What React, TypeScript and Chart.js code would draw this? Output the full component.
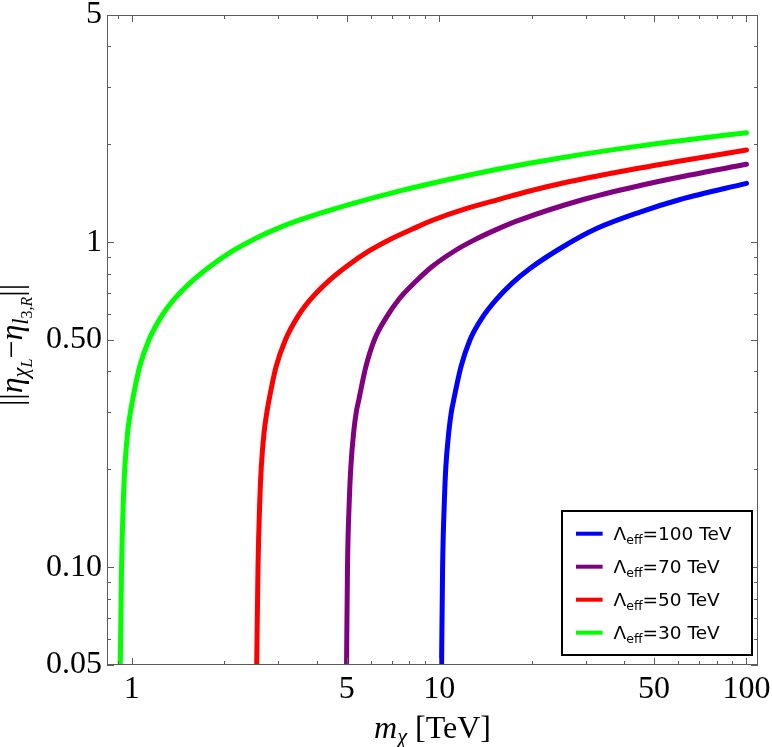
import React, { useEffect, useRef } from "react";
import { Chart, registerables } from "chart.js";

Chart.register(...registerables);

// ---- data ----
const LAMBDA_VALUES = [100, 70, 50, 30];
const COLORS = ["#0000ff", "#800080", "#ff0000", "#00ff00"];

const BLUE_X = [10.18, 10.26, 10.4, 10.51, 10.74, 10.94, 11.15, 11.77, 12.59, 13.88, 15.3, 17.25, 19.74, 25.29, 32.64, 45.06, 60.81, 100];
const BLUE_Y = [0.05, 0.1, 0.161, 0.203, 0.259, 0.298, 0.327, 0.413, 0.5, 0.59, 0.664, 0.747, 0.83, 0.968, 1.103, 1.238, 1.353, 1.517];

const PURPLE_X = [4.995, 5.031, 5.1, 5.158, 5.267, 5.366, 5.476, 5.771, 6.151, 6.755, 7.364, 8.273, 9.467, 11.25, 13.07, 15.53, 18.32, 29.44, 45.06, 60.81, 100];
const PURPLE_Y = [0.05, 0.1, 0.161, 0.203, 0.259, 0.298, 0.327, 0.413, 0.5, 0.59, 0.664, 0.747, 0.84, 0.941, 1.018, 1.099, 1.171, 1.353, 1.494, 1.587, 1.736];

const RED_X = [2.548, 2.573, 2.608, 2.637, 2.692, 2.747, 2.795, 2.945, 3.158, 3.465, 3.8, 4.285, 4.979, 5.929, 6.889, 8.211, 9.56, 12.29, 15.77, 19.7, 25.3, 45.06, 60.81, 100];
const RED_Y = [0.05, 0.1, 0.161, 0.203, 0.259, 0.298, 0.327, 0.413, 0.5, 0.59, 0.664, 0.747, 0.84, 0.941, 1.018, 1.099, 1.17, 1.271, 1.357, 1.437, 1.521, 1.692, 1.777, 1.921];

const GREEN_X = [0.9167, 0.9257, 0.9383, 0.9489, 0.9683, 0.988, 1.0053, 1.0594, 1.1359, 1.2466, 1.3671, 1.5415, 1.7913, 2.1331, 2.4785, 2.953, 3.518, 5.118, 7.447, 10.835, 15.766, 25.29, 45.06, 60.81, 100];
const GREEN_Y = [0.05, 0.1, 0.161, 0.203, 0.259, 0.298, 0.327, 0.413, 0.5, 0.59, 0.664, 0.747, 0.84, 0.941, 1.018, 1.099, 1.171, 1.307, 1.438, 1.562, 1.683, 1.823, 1.978, 2.052, 2.172];

const SERIES_X = [BLUE_X, PURPLE_X, RED_X, GREEN_X];
const SERIES_Y = [BLUE_Y, PURPLE_Y, RED_Y, GREEN_Y];

const X_TICKS = [1, 5, 10, 50, 100];
const X_TICK_LABELS = ["1", "5", "10", "50", "100"];
const X_MINOR = [0.9, 2, 3, 4, 6, 7, 8, 9, 20, 30, 40, 60, 70, 80, 90];
const Y_TICKS = [0.05, 0.1, 0.5, 1, 5];
const Y_TICK_LABELS = ["0.05", "0.10", "0.50", "1", "5"];
const Y_MINOR = [0.06, 0.07, 0.08, 0.09, 0.2, 0.3, 0.4, 0.6, 0.7, 0.8, 0.9, 2, 3, 4];

const X_MIN = 0.83;
const X_MAX = 109;
const Y_MIN = 0.05;
const Y_MAX = 5;

type Part = { t: string; s: number; dy: number; it: boolean };

const X_TITLE: Part[] = [
  { t: "m", s: 1, dy: 0, it: true },
  { t: "χ", s: 0.7, dy: 0.2, it: true },
  { t: " [TeV]", s: 1, dy: 0, it: false },
];

const Y_TITLE: Part[] = [
  { t: "||", s: 1, dy: 0, it: false },
  { t: "η", s: 1, dy: 0, it: true },
  { t: "χ", s: 0.7, dy: 0.2, it: true },
  { t: "L", s: 0.5, dy: 0.32, it: true },
  { t: "−", s: 1, dy: 0, it: false },
  { t: "η", s: 1, dy: 0, it: true },
  { t: "l", s: 0.7, dy: 0.2, it: true },
  { t: "3,", s: 0.5, dy: 0.32, it: false },
  { t: "R", s: 0.5, dy: 0.32, it: true },
  { t: "||", s: 1, dy: 0, it: false },
];

const SERIF = "'Liberation Serif', 'Times New Roman', serif";
const SANS = "'DejaVu Sans', 'Liberation Sans', sans-serif";

Chart.defaults.font.family = SERIF;

function fontFor(p: Part, base: number) {
  return `${p.it ? "italic " : ""}${base * p.s}px ${SERIF}`;
}
function partsWidth(ctx: CanvasRenderingContext2D, parts: Part[], base: number) {
  let w = 0;
  for (const p of parts) {
    ctx.font = fontFor(p, base);
    w += ctx.measureText(p.t).width;
  }
  return w;
}
function drawParts(ctx: CanvasRenderingContext2D, parts: Part[], base: number, x: number, y: number) {
  for (const p of parts) {
    ctx.font = fontFor(p, base);
    ctx.fillText(p.t, x, y + p.dy * base);
    x += ctx.measureText(p.t).width;
  }
}

const framePlugin = {
  id: "mmaFrame",
  afterDraw(chart: any) {
    const { ctx, chartArea: a, scales } = chart;
    const xs = scales.x;
    const ys = scales.y;
    ctx.save();
    // frame
    ctx.strokeStyle = "#5c5c5c";
    ctx.lineWidth = 1;
    ctx.strokeRect(a.left + 0.5, a.top + 0.5, a.right - a.left - 1, a.bottom - a.top - 1);
    const MAJ = 7;
    const MIN = 4;
    ctx.beginPath();
    const xt = (v: number, len: number) => {
      const px = Math.round(xs.getPixelForValue(v)) + 0.5;
      ctx.moveTo(px, a.bottom);
      ctx.lineTo(px, a.bottom - len);
      ctx.moveTo(px, a.top);
      ctx.lineTo(px, a.top + len);
    };
    const yt = (v: number, len: number) => {
      const py = Math.round(ys.getPixelForValue(v)) + 0.5;
      ctx.moveTo(a.left, py);
      ctx.lineTo(a.left + len, py);
      ctx.moveTo(a.right, py);
      ctx.lineTo(a.right - len, py);
    };
    X_TICKS.forEach((v) => xt(v, MAJ));
    X_MINOR.forEach((v) => xt(v, MIN));
    Y_TICKS.forEach((v) => yt(v, MAJ));
    Y_MINOR.forEach((v) => yt(v, MIN));
    ctx.stroke();

    // legend
    const w = 190;
    const h = 144;
    const L = a.right - 6 - w;
    const T = a.bottom - 10 - h;
    ctx.fillStyle = "#ffffff";
    ctx.fillRect(L, T, w, h);
    ctx.strokeStyle = "#000000";
    ctx.lineWidth = 2;
    ctx.strokeRect(L, T, w, h);
    chart.data.datasets.forEach((ds: any, i: number) => {
      const yy = T + 22.7 + i * 33;
      ctx.beginPath();
      ctx.strokeStyle = ds.borderColor;
      ctx.lineWidth = 4;
      ctx.moveTo(L + 14, yy);
      ctx.lineTo(L + 40.6, yy);
      ctx.stroke();
      ctx.fillStyle = "#000";
      ctx.textBaseline = "alphabetic";
      ctx.textAlign = "left";
      let tx = L + 51.6;
      const base = yy + 6.5;
      ctx.font = `18.5px ${SANS}`;
      ctx.fillText("Λ", tx, base);
      tx += ctx.measureText("Λ").width;
      ctx.font = `12.5px ${SANS}`;
      ctx.fillText("eff", tx, base + 4);
      tx += ctx.measureText("eff").width;
      ctx.font = `18.5px ${SANS}`;
      ctx.fillText(`=${ds.lambda} TeV`, tx, base);
    });

    // axis titles
    ctx.fillStyle = "#000";
    ctx.textAlign = "left";
    ctx.textBaseline = "alphabetic";
    const xb = 32;
    const xw = partsWidth(ctx, X_TITLE, xb);
    drawParts(ctx, X_TITLE, xb, (a.left + a.right) / 2 - xw / 2, 738);

    const yw = partsWidth(ctx, Y_TITLE, 32);
    ctx.translate(0, 345);
    ctx.rotate(-Math.PI / 2);
    drawParts(ctx, Y_TITLE, 32, -yw / 2, 22);
    ctx.restore();
  },
};

export default function App() {
  const ref = useRef<HTMLCanvasElement | null>(null);

  useEffect(() => {
    if (!ref.current) return;
    const datasets = LAMBDA_VALUES.map((lam, i) => ({
      label: `Λeff=${lam} TeV`,
      lambda: lam,
      data: SERIES_X[i].map((x, j) => ({ x, y: SERIES_Y[i][j] })),
      borderColor: COLORS[i],
      backgroundColor: COLORS[i],
      borderWidth: 5,
      pointRadius: 0,
      showLine: true,
      fill: false,
      cubicInterpolationMode: "monotone" as const,
      borderCapStyle: "round" as const,
      clip: { left: 0, top: 0, right: 0, bottom: 0 },
    }));

    const tickFont = { family: SERIF, size: 32, style: "normal" as const, weight: "normal" as const };

    const chart = new Chart(ref.current, {
      type: "scatter",
      data: { datasets: datasets as any },
      options: {
        animation: false,
        responsive: false,
        maintainAspectRatio: false,
        devicePixelRatio: 1,
        layout: { padding: { top: 15, right: 14, left: 0, bottom: 0 } },
        plugins: {
          legend: { display: false },
          tooltip: { enabled: false },
        },
        scales: {
          x: {
            type: "logarithmic",
            min: X_MIN,
            max: X_MAX,
            grid: { display: false, drawTicks: false },
            border: { display: false },
            ticks: {
              autoSkip: false,
              maxRotation: 0,
              minRotation: 0,
              padding: 5,
              color: "#000",
              font: tickFont,
              callback: (v: any) => {
                const k = X_TICKS.indexOf(Number(v));
                return k >= 0 ? X_TICK_LABELS[k] : "";
              },
            },
            afterBuildTicks: (s: any) => {
              s.ticks = X_TICKS.map((v) => ({ value: v }));
            },
            afterFit: (s: any) => {
              s.height = 82;
              s.paddingLeft = 0;
              s.paddingRight = 0;
            },
          },
          y: {
            type: "logarithmic",
            min: Y_MIN,
            max: Y_MAX,
            grid: { display: false, drawTicks: false },
            border: { display: false },
            ticks: {
              autoSkip: false,
              padding: 5,
              color: "#000",
              font: tickFont,
              callback: (v: any) => {
                const k = Y_TICKS.indexOf(Number(v));
                return k >= 0 ? Y_TICK_LABELS[k] : "";
              },
            },
            afterBuildTicks: (s: any) => {
              s.ticks = Y_TICKS.map((v) => ({ value: v }));
            },
            afterFit: (s: any) => {
              s.width = 107;
              s.paddingTop = 0;
              s.paddingBottom = 0;
            },
          },
        },
      },
      plugins: [framePlugin],
    });
    return () => chart.destroy();
  }, []);

  return (
    <div style={{ position: "fixed", left: 0, top: 0, width: 772, height: 747, background: "#fff" }}>
      <canvas ref={ref} width={772} height={747} style={{ display: "block", width: 772, height: 747 }} />
    </div>
  );
}
